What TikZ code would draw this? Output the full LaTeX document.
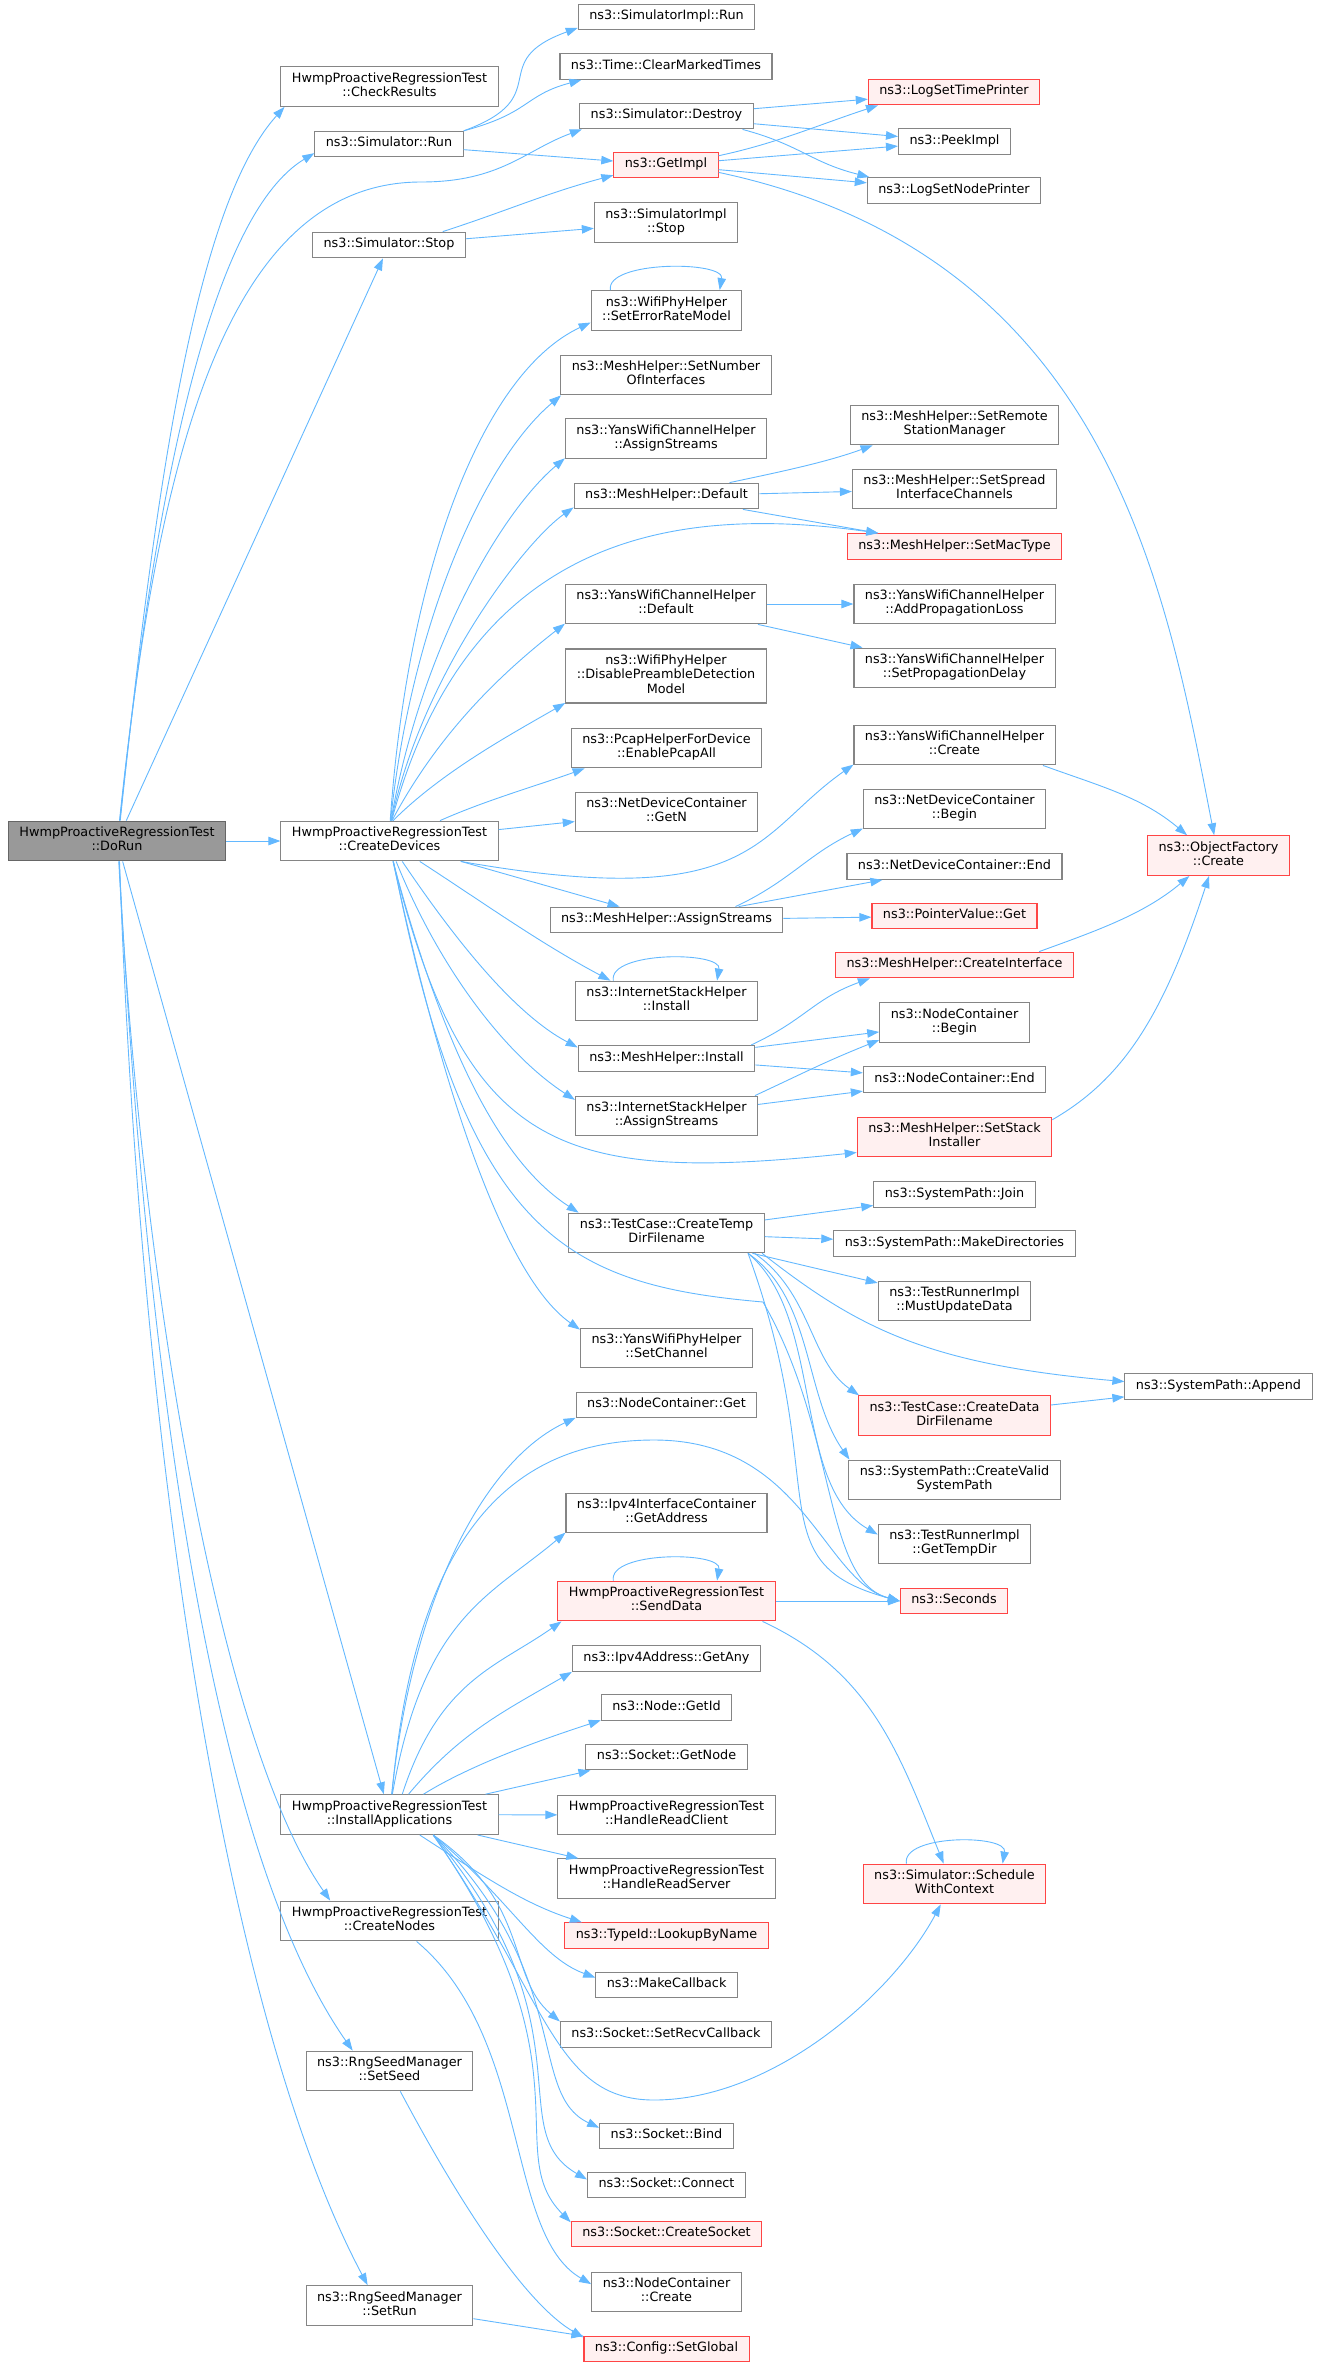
\documentclass[tikz,border=0pt]{standalone}
\usepackage{fontspec}
\setmainfont{DejaVu Sans}
\usetikzlibrary{arrows.meta}
\definecolor{edgeblue}{HTML}{63B8FF}
\definecolor{boxgray}{HTML}{858585}
\definecolor{rootfill}{HTML}{999999}
\definecolor{rootline}{HTML}{666666}
\definecolor{hotline}{HTML}{FF4545}
\definecolor{hotfill}{HTML}{FFF0F0}

\begin{document}
\begin{tikzpicture}
  [x=1pt,y=1pt,
   every node/.style={draw=boxgray,fill=white,line width=1.1pt,align=center,
     font=\fontsize{12.8}{14.3}\selectfont,inner xsep=11pt,inner ysep=5.7pt,
     minimum height=25.6pt,execute at begin node=\strut,execute at end node=\strut},
   hotbox/.style={draw=hotline,fill=hotfill},
   rootbox/.style={draw=rootline,fill=rootfill},
   calls/.style={draw=edgeblue,line width=0.9pt,-{Triangle[length=12pt,width=8.5pt]}}]
  \useasboundingbox (0,0) rectangle (1317,-2367);

  \node[rootbox] (dorun) at (117,-841) {HwmpProactiveRegressionTest\\::DoRun};
  \node (check) at (389.5,-86.5) {HwmpProactiveRegressionTest\\::CheckResults};
  \node (simrun) at (389,-144) {ns3::Simulator::Run};
  \node (simstop) at (389,-245) {ns3::Simulator::Stop};
  \node (cdev) at (389.5,-841) {HwmpProactiveRegressionTest\\::CreateDevices};
  \node (instapp) at (389.5,-1814.6) {HwmpProactiveRegressionTest\\::InstallApplications};
  \node (cnodes) at (389.5,-1921) {HwmpProactiveRegressionTest\\::CreateNodes};
  \node (setseed) at (389.5,-2071) {ns3::RngSeedManager\\::SetSeed};
  \node (setrun) at (389.5,-2305.5) {ns3::RngSeedManager\\::SetRun};

  \node (implrun) at (666.5,-17) {ns3::SimulatorImpl::Run};
  \node (clear) at (666,-66.5) {ns3::Time::ClearMarkedTimes};
  \node (destroy) at (666.5,-116) {ns3::Simulator::Destroy};
  \node[hotbox] (getimpl) at (666,-165) {ns3::GetImpl};
  \node (implstop) at (666,-222.5) {ns3::SimulatorImpl\\::Stop};
  \node (errmodel) at (666.5,-310.5) {ns3::WifiPhyHelper\\::SetErrorRateModel};
  \node (numif) at (666,-375) {ns3::MeshHelper::SetNumber\\OfInterfaces};
  \node (ywassign) at (666,-438.6) {ns3::YansWifiChannelHelper\\::AssignStreams};
  \node (mdefault) at (666.5,-496) {ns3::MeshHelper::Default};
  \node (ywdefault) at (666,-604) {ns3::YansWifiChannelHelper\\::Default};
  \node (preamble) at (666,-676) {ns3::WifiPhyHelper\\::DisablePreambleDetection\\Model};
  \node (pcap) at (666.5,-748) {ns3::PcapHelperForDevice\\::EnablePcapAll};
  \node (getn) at (666.5,-812) {ns3::NetDeviceContainer\\::GetN};
  \node (massign) at (666.5,-920) {ns3::MeshHelper::AssignStreams};
  \node (ishinst) at (666.5,-1001) {ns3::InternetStackHelper\\::Install};
  \node (minstall) at (666.5,-1058.4) {ns3::MeshHelper::Install};
  \node (ishassign) at (666.5,-1116) {ns3::InternetStackHelper\\::AssignStreams};
  \node (tempdir) at (666.6,-1233) {ns3::TestCase::CreateTemp\\DirFilename};
  \node (setchan) at (666.5,-1348) {ns3::YansWifiPhyHelper\\::SetChannel};
  \node (ncget) at (666.5,-1405) {ns3::NodeContainer::Get};
  \node (getaddr) at (666.5,-1513) {ns3::Ipv4InterfaceContainer\\::GetAddress};
  \node[hotbox] (senddata) at (666.5,-1601) {HwmpProactiveRegressionTest\\::SendData};
  \node (getany) at (666.5,-1658.6) {ns3::Ipv4Address::GetAny};
  \node (getid) at (666.5,-1707.5) {ns3::Node::GetId};
  \node (getnode) at (666.5,-1757) {ns3::Socket::GetNode};
  \node (hrclient) at (666.5,-1815) {HwmpProactiveRegressionTest\\::HandleReadClient};
  \node (hrserver) at (666.5,-1878.7) {HwmpProactiveRegressionTest\\::HandleReadServer};
  \node[hotbox] (lookup) at (666.5,-1935.7) {ns3::TypeId::LookupByName};
  \node (mkcb) at (666.6,-1985) {ns3::MakeCallback};
  \node (recvcb) at (666,-2034.5) {ns3::Socket::SetRecvCallback};
  \node (bind) at (666.5,-2136) {ns3::Socket::Bind};
  \node (connect) at (666.5,-2185) {ns3::Socket::Connect};
  \node[hotbox] (csocket) at (666.5,-2234) {ns3::Socket::CreateSocket};
  \node (nccreate) at (666.5,-2292) {ns3::NodeContainer\\::Create};
  \node[hotbox] (setglobal) at (666.5,-2349) {ns3::Config::SetGlobal};

  \node[hotbox] (timeprn) at (954,-92) {ns3::LogSetTimePrinter};
  \node (peek) at (954.5,-141.5) {ns3::PeekImpl};
  \node (nodeprn) at (954,-190.5) {ns3::LogSetNodePrinter};
  \node (remote) at (954.5,-425) {ns3::MeshHelper::SetRemote\\StationManager};
  \node (spread) at (954.5,-489) {ns3::MeshHelper::SetSpread\\InterfaceChannels};
  \node[hotbox] (mactype) at (954.5,-546.5) {ns3::MeshHelper::SetMacType};
  \node (addloss) at (954.5,-604) {ns3::YansWifiChannelHelper\\::AddPropagationLoss};
  \node (propdelay) at (954.5,-668) {ns3::YansWifiChannelHelper\\::SetPropagationDelay};
  \node (ywcreate) at (954.5,-745) {ns3::YansWifiChannelHelper\\::Create};
  \node (ndbegin) at (954.5,-809) {ns3::NetDeviceContainer\\::Begin};
  \node (ndend) at (954.5,-866.5) {ns3::NetDeviceContainer::End};
  \node[hotbox] (pvget) at (954.5,-916) {ns3::PointerValue::Get};
  \node[hotbox] (mcreateif) at (954.5,-965) {ns3::MeshHelper::CreateInterface};
  \node (ncbegin) at (954.5,-1022.6) {ns3::NodeContainer\\::Begin};
  \node (ncend) at (954.5,-1079.6) {ns3::NodeContainer::End};
  \node[hotbox] (stackinst) at (954.5,-1137) {ns3::MeshHelper::SetStack\\Installer};
  \node (join) at (954.5,-1194.7) {ns3::SystemPath::Join};
  \node (mkdirs) at (954.5,-1243.7) {ns3::SystemPath::MakeDirectories};
  \node (mustupd) at (954.5,-1301) {ns3::TestRunnerImpl\\::MustUpdateData};
  \node[hotbox] (createdata) at (954.5,-1415.6) {ns3::TestCase::CreateData\\DirFilename};
  \node (validpath) at (954.5,-1480) {ns3::SystemPath::CreateValid\\SystemPath};
  \node (gettmp) at (954.5,-1544) {ns3::TestRunnerImpl\\::GetTempDir};
  \node[hotbox] (seconds) at (954,-1601) {ns3::Seconds};
  \node[hotbox] (schedule) at (954.5,-1884) {ns3::Simulator::Schedule\\WithContext};

  \node[hotbox] (objcreate) at (1218.5,-855.6) {ns3::ObjectFactory\\::Create};
  \node (append) at (1218.5,-1386.5) {ns3::SystemPath::Append};

  \coordinate (dsvia) at (421,-182);
  \coordinate (cdsvia) at (763,-1302);
  \coordinate (isvia) at (654,-1440);
  \coordinate (scvia) at (654,-2100);

  \foreach \from/\to in {dorun/cdev,dorun/simstop,dorun/instapp,simrun/getimpl,
      simstop/implstop,destroy/timeprn,destroy/peek,getimpl/peek,getimpl/nodeprn,
      mdefault/spread,mdefault/mactype,ywdefault/addloss,ywdefault/propdelay,
      cdev/getn,cdev/massign,massign/pvget,massign/ndend,minstall/ncbegin,
      minstall/ncend,ishassign/ncend,tempdir/join,tempdir/mkdirs,tempdir/mustupd,
      createdata/append,senddata/seconds,instapp/hrclient,instapp/hrserver,
      setrun/setglobal}
    \draw[calls] (\from) -- (\to);

  \foreach \from/\to/\ao/\ai/\lo/\li in {
      dorun.81/check.191/84/228/350/130, dorun.82/simrun.187/84/211/420/100,
      simrun.10/implrun.187/20/200/100/100, simrun.10/clear.189/15/195/70/60,
      simstop.14/getimpl.191/18/195/70/70, destroy.350/nodeprn.171/345/166/60/60,
      getimpl.10/timeprn.190/12/198/60/60, getimpl.352/objcreate.102/348/101/400/250,
      cdev.88/errmodel.189/86/205/250/120, cdev.87/numif.191/84/220/200/100,
      cdev.86/ywassign.191/80/220/180/80, cdev.85/mdefault.187/78/215/150/60,
      cdev.84/mactype.170/75/172/300/200, cdev.83/ywdefault.191/62/218/100/80,
      cdev.80/preamble.195/45/210/70/60, cdev.22/pcap.194/24/200/50/50,
      cdev.344/ywcreate.191/350/215/300/120, cdev.326/ishinst.160/327/152/80/80,
      cdev.302/minstall.173/304/152/100/70, cdev.288/ishassign.170/292/147/120/80,
      cdev.280/stackinst.189/284/186/300/300, cdev.280/tempdir.167/285/147/180/100,
      cdev.280/setchan.168/282/145/200/100, mdefault.12/remote.194/12/200/50/50,
      ywcreate.347/objcreate.147/340/140/60/60, massign.11/ndbegin.192/25/205/60/60,
      mcreateif.9/objcreate.215/20/220/60/60, minstall.9/mcreateif.189/25/200/60/60,
      ishassign.13/ncbegin.193/25/202/60/60, stackinst.10/objcreate.245/30/252/80/150,
      tempdir.348/append.177/322/175/120/200, tempdir.347/createdata.168/325/145/70/60,
      tempdir.346/validpath.169/325/125/80/80, tempdir.346/gettmp.173/320/150/100/100,
      tempdir.346/seconds.180/290/165/250/150, senddata.348/schedule.118/335/112/120/120,
      instapp.84/ncget.188/84/205/200/100, instapp.82/getaddr.191/80/220/180/100,
      instapp.58/senddata.191/72/215/120/80, instapp.47/getany.188/50/210/80/80,
      instapp.31/getid.191/32/198/60/50, instapp.12/getnode.190/13/193/30/30,
      instapp.326/lookup.171/327/162/80/60, instapp.335/mkcb.174/320/160/100/60,
      instapp.335/recvcb.173/325/140/120/70, instapp.335/bind.173/315/155/200/80,
      instapp.335/connect.176/310/150/250/100, instapp.335/csocket.173/305/135/280/100,
      cnodes.323/nccreate.174/320/150/150/100, dorun.275/cnodes.161/273/125/400/200,
      dorun.276/setseed.151/273/125/500/250, dorun.277/setrun.137/272/118/600/300,
      setseed.298/setglobal.172/298/150/150/60}
    \draw[calls] (\from) .. controls +(\ao:\lo pt) and +(\ai:\li pt) .. (\to);

  \draw[calls] (dorun.83) .. controls +(84:350pt) and +(180:200pt) .. (dsvia)
    .. controls +(0:80pt) and +(200:60pt) .. (destroy.189);
  \draw[calls] (cdev.281) .. controls +(281:380pt) and +(175:200pt) .. (cdsvia)
    .. controls +(300:150pt) and +(165:80pt) .. (seconds.180);
  \draw[calls] (instapp.83) .. controls +(85:250pt) and +(180:150pt) .. (isvia)
    .. controls +(0:150pt) and +(165:80pt) .. (seconds.180);
  \draw[calls] (instapp.335) .. controls +(305:200pt) and +(180:100pt) .. (scvia)
    .. controls +(0:120pt) and +(242:100pt) .. (schedule.236);

  \foreach \n/\a/\b in {errmodel/160/21,ishinst/159/22,senddata/159/22,schedule/157/23}
    \draw[calls] (\n.\a) .. controls +(100:30pt) and +(80:30pt) .. (\n.\b);
\end{tikzpicture}
\end{document}
